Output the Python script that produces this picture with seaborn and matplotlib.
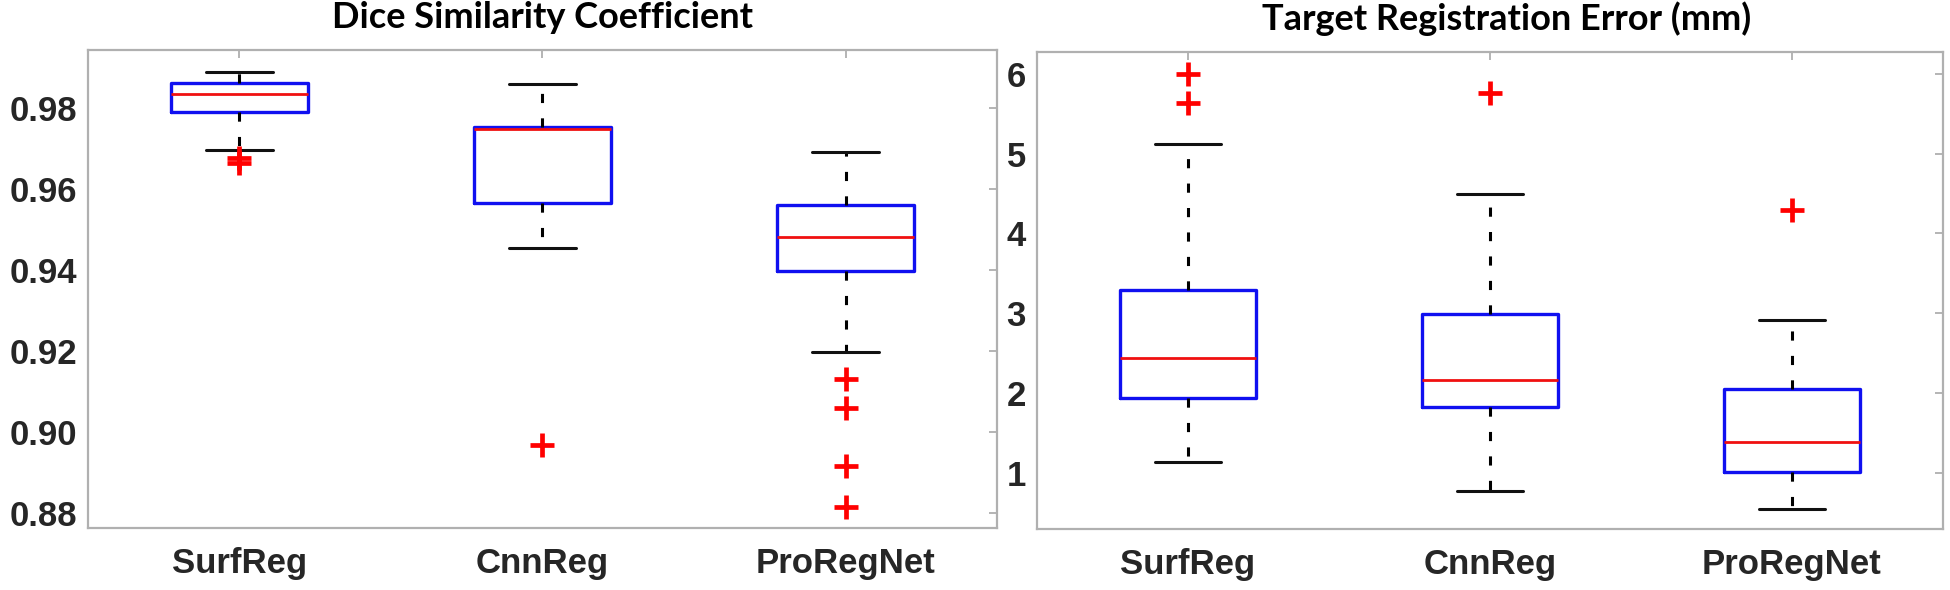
import pandas as pd
import seaborn as sns
import matplotlib.pyplot as plt

methods = ['SurfReg', 'CnnReg', 'ProRegNet']

# Dice similarity coefficient: whisker ends, quartiles, outliers
dsc_lo = [0.9697, 0.9454, 0.9197]
dsc_q1 = [0.9789, 0.9565, 0.9398]
dsc_med = [0.9835, 0.9749, 0.9482]
dsc_q3 = [0.9862, 0.9753, 0.9561]
dsc_hi = [0.9889, 0.9858, 0.9690]
dsc_out = [[0.9677, 0.9665], [0.8969], [0.9131, 0.9059, 0.8915, 0.8815]]

# Target registration error (mm)
tre_lo = [1.14, 0.77, 0.55]
tre_q1 = [1.94, 1.82, 1.01]
tre_med = [2.44, 2.16, 1.39]
tre_q3 = [3.29, 2.99, 2.05]
tre_hi = [5.12, 4.50, 2.92]
tre_out = [[6.00, 5.64], [5.76], [4.30]]


def box_sample(lo, q1, med, q3, hi, out):
    # 4k+1 values so numpy's percentiles fall exactly on q1 / median / q3
    below = sorted(v for v in out if v < q1) + [lo]
    above = [hi] + sorted(v for v in out if v > q3)
    k = max(len(below), len(above))
    vals = below + [q1] * (k - len(below) + 1)
    vals += [med] * k
    vals += [q3] * k
    vals += [q3] * (k - len(above)) + above
    return vals


rows = []
for metric, stats in [('dsc', (dsc_lo, dsc_q1, dsc_med, dsc_q3, dsc_hi, dsc_out)),
                      ('tre', (tre_lo, tre_q1, tre_med, tre_q3, tre_hi, tre_out))]:
    for i, m in enumerate(methods):
        for v in box_sample(*[s[i] for s in stats]):
            rows.append({'metric': metric, 'method': m, 'value': v})
df = pd.DataFrame(rows)

sns.set_style('white')
plt.rcParams['font.family'] = ['Liberation Sans', 'DejaVu Sans']

fig = plt.figure(figsize=(19.5, 5.9), dpi=100)
ax1 = fig.add_axes([0.0451, 0.1051, 0.4662, 0.8102])
ax2 = fig.add_axes([0.5318, 0.1034, 0.4646, 0.8085])

panels = [
    (ax1, 'dsc', 'Dice Similarity Coefficient', (0.8763, 0.9943), [0.88, 0.90, 0.92, 0.94, 0.96, 0.98], '{:.2f}', 0.5),
    (ax2, 'tre', 'Target Registration Error (mm)', (0.294, 6.276), [1, 2, 3, 4, 5, 6], '{:.0f}', 0.518),
]

for ax, metric, title, ylim, yticks, fmt, tx in panels:
    sns.boxplot(data=df[df['metric'] == metric], x='method', y='value', order=methods,
                ax=ax, width=0.45, fill=False, whis=1.5, fliersize=16,
                boxprops=dict(color='#1010f0', linewidth=2.4),
                medianprops=dict(color='#f01010', linewidth=2.0),
                whiskerprops=dict(color='black', linewidth=2.2, linestyle=(0, (3, 5))),
                capprops=dict(color='#111111', linewidth=2.2),
                flierprops=dict(marker='+', markeredgecolor='red', markersize=17,
                                markeredgewidth=3.4),
                capwidths=0.22)
    ax.set_xlim(-0.5, 2.5)
    ax.set_ylim(*ylim)
    ax.set_yticks(yticks)
    ax.set_yticklabels([fmt.format(t) for t in yticks])
    ax.set_xlabel('')
    ax.set_ylabel('')
    ax.tick_params(direction='in', top=True, right=True, length=6, width=1.2,
                   color='#a8a8a8', labelcolor='#262626', labelsize=25)
    ax.tick_params(axis='x', pad=14)
    ax.tick_params(axis='y', pad=8)
    for lab in ax.get_xticklabels() + ax.get_yticklabels():
        lab.set_fontweight('bold')
    for sp in ax.spines.values():
        sp.set_visible(True)
        sp.set_color('#b0b0b0')
        sp.set_linewidth(1.6)
    ax.annotate(title, xy=(tx, 1), xycoords='axes fraction', xytext=(0, 16),
                textcoords='offset points', ha='center', va='baseline',
                family=['Lato', 'DejaVu Sans'], fontweight='bold', fontsize=26,
                color='black')

fig.savefig('out.png', dpi=100)
